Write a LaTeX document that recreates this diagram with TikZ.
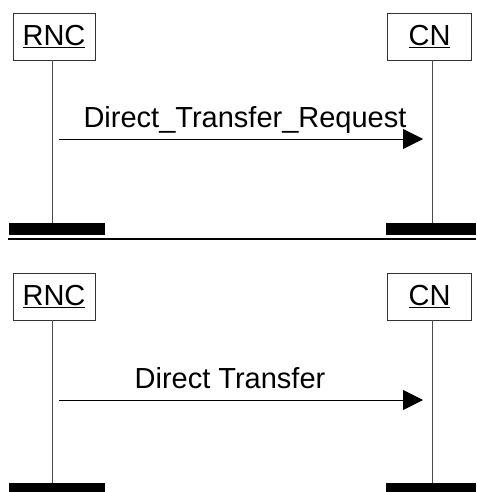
\documentclass[tikz,border=0pt]{standalone}
\usepackage{fontspec}
\setmainfont{Liberation Sans}
\usetikzlibrary{arrows.meta}
\begin{document}
\begin{tikzpicture}[x=1pt,y=-1pt,
  ent/.style={draw=black!80,line width=0.8pt,fill=white,minimum height=47pt,inner sep=0pt,font=\fontsize{29}{34}\selectfont},
  bar/.style={fill=black,draw=none,minimum height=12pt,inner sep=0pt},
  life/.style={draw=black!70,line width=0.8pt},
  msg/.style={draw=black,line width=0.8pt,-{Triangle[length=20pt,width=20pt]}},
  lbl/.style={font=\fontsize{29}{34}\selectfont,inner sep=0pt,anchor=base}]
\useasboundingbox (0,0) rectangle (476,492);
% top section
\node[ent,minimum width=82pt] (rnc1) at (54,36.5) {\underline{RNC}};
\node[ent,minimum width=84pt] (cn1) at (429.5,36.5) {\underline{CN}};
\node[bar,minimum width=96pt] (bl1) at (57,229) {};
\node[bar,minimum width=90pt] (br1) at (431,229) {};
\draw[life] (rnc1.south -| 52,0) -- (bl1.north -| 52,0);
\draw[life] (cn1.south -| 432,0) -- (br1.north -| 432,0);
\coordinate (m1s) at (59,139);
\coordinate (m1e) at (423,139);
\draw[msg] (m1s) -- (m1e);
\node[lbl] (t1) at (245,128) {Direct\_Transfer\_Request};
% separator
\coordinate (sepL) at (8,239);
\coordinate (sepR) at (476,239);
\draw[line width=2pt] (sepL) -- (sepR);
% bottom section
\node[ent,minimum width=82pt] (rnc2) at (54,296.5) {\underline{RNC}};
\node[ent,minimum width=84pt] (cn2) at (429.5,296.5) {\underline{CN}};
\node[bar,minimum width=96pt] (bl2) at (57,489) {};
\node[bar,minimum width=90pt] (br2) at (431,489) {};
\draw[life] (rnc2.south -| 52,0) -- (bl2.north -| 52,0);
\draw[life] (cn2.south -| 432,0) -- (br2.north -| 432,0);
\coordinate (m2s) at (59,400);
\coordinate (m2e) at (423,400);
\draw[msg] (m2s) -- (m2e);
\node[lbl] (t2) at (230,388) {Direct Transfer};
\end{tikzpicture}
\end{document}
